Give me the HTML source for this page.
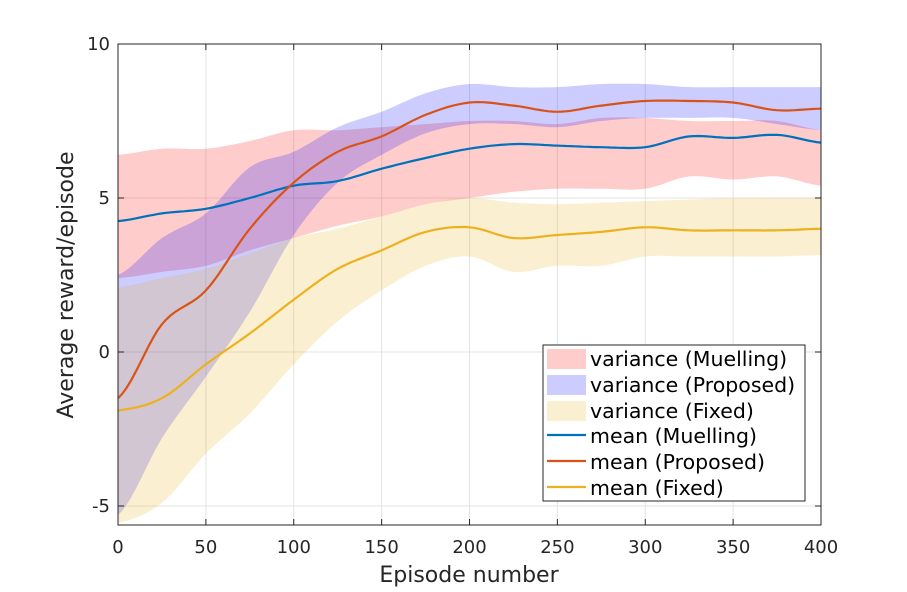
<!DOCTYPE html>
<html><head><meta charset="utf-8"><style>
body{margin:0;background:#fff}
svg{display:block;font-family:"DejaVu Sans","Liberation Sans",sans-serif}
</style></head><body>
<svg id="chart" width="907" height="592" viewBox="0 0 907 592"></svg>
<script>
const episodes=[0,25,50,75,100,125,150,175,200,225,250,275,300,325,350,375,400];
const muellingMean=[4.25,4.5,4.65,5.0,5.4,5.55,5.95,6.3,6.6,6.75,6.7,6.65,6.65,7.0,6.95,7.05,6.8];
const muellingUpper=[6.4,6.6,6.6,6.85,7.2,7.2,7.3,7.4,7.5,7.5,7.4,7.6,7.6,7.5,7.5,7.5,7.2];
const muellingLower=[2.4,2.6,2.8,3.3,3.7,4.1,4.4,4.8,5.0,5.2,5.3,5.3,5.3,5.7,5.6,5.7,5.4];
const proposedMean=[-1.5,0.9,2.0,4.0,5.5,6.5,7.0,7.7,8.1,8.0,7.8,8.0,8.15,8.15,8.1,7.85,7.9];
const proposedUpper=[2.5,3.7,4.5,6.0,6.5,7.3,7.8,8.4,8.7,8.6,8.6,8.7,8.7,8.6,8.6,8.6,8.6];
const proposedLower=[-5.3,-2.8,-0.8,1.3,3.8,5.5,6.4,7.1,7.4,7.4,7.3,7.5,7.6,7.6,7.6,7.4,7.2];
const fixedMean=[-1.9,-1.5,-0.4,0.6,1.7,2.7,3.3,3.9,4.05,3.7,3.8,3.9,4.05,3.95,3.95,3.95,4.0];
const fixedUpper=[2.1,2.4,2.7,3.2,3.7,4.0,4.4,4.8,5.0,4.85,4.8,4.85,4.9,4.95,5.0,5.0,5.0];
const fixedLower=[-5.55,-4.9,-3.3,-2.0,-0.4,1.0,2.0,2.8,3.1,2.6,2.8,2.8,3.1,3.1,3.1,3.1,3.15];
const xTicks=[0,50,100,150,200,250,300,350,400];
const yTicks=[-5,0,5,10];

const L=118,R=821,T=44,B=525,XMAX=400,YMIN=-5.617,YMAX=10;
const sx=v=>L+(v/XMAX)*(R-L);
const sy=v=>B-(v-YMIN)/(YMAX-YMIN)*(B-T);
const svg=document.getElementById('chart');
const NS='http://www.w3.org/2000/svg';
function mk(tag,attrs,parent){const e=document.createElementNS(NS,tag);for(const k in attrs)e.setAttribute(k,attrs[k]);(parent||svg).appendChild(e);return e;}
function smoothPts(xs,ys){const pts=[];for(let i=0;i<xs.length-1;i++){const p0=ys[Math.max(i-1,0)],p1=ys[i],p2=ys[i+1],p3=ys[Math.min(i+2,ys.length-1)];for(let t=0;t<1;t+=0.1){const t2=t*t,t3=t2*t;const y=0.5*(2*p1+(-p0+p2)*t+(2*p0-5*p1+4*p2-p3)*t2+(-p0+3*p1-3*p2+p3)*t3);pts.push([sx(xs[i]+t*(xs[i+1]-xs[i])),sy(y)]);}}pts.push([sx(xs[xs.length-1]),sy(ys[ys.length-1])]);return pts;}
const toStr=p=>p.map(q=>q[0].toFixed(1)+','+q[1].toFixed(1)).join(' ');

const grid=mk('g',{});


xTicks.forEach(v=>mk('line',{x1:sx(v),x2:sx(v),y1:T,y2:B,stroke:'#e3e3e3','stroke-width':1},grid));
yTicks.forEach(v=>mk('line',{x1:L,x2:R,y1:sy(v),y2:sy(v),stroke:'#e3e3e3','stroke-width':1},grid));

function band(up,lo,fill,name){const a=smoothPts(episodes,up),b=smoothPts(episodes,lo).reverse();const p=mk('polygon',{points:toStr(a.concat(b)),fill:fill,stroke:'none'});}
band(muellingUpper,muellingLower,'rgba(255,0,0,0.2)','variance-muelling');
band(proposedUpper,proposedLower,'rgba(0,0,255,0.2)','variance-proposed');
band(fixedUpper,fixedLower,'rgba(237,177,32,0.2)','variance-fixed');
function line(ys,col,name){const p=mk('polyline',{points:toStr(smoothPts(episodes,ys)),fill:'none',stroke:col,'stroke-width':2.2});}
line(muellingMean,'#0072BD','mean-muelling');
line(proposedMean,'#D95319','mean-proposed');
line(fixedMean,'#EDB120','mean-fixed');

mk('rect',{x:L,y:T,width:R-L,height:B-T,fill:'none',stroke:'#262626','stroke-width':1});
const ax=mk('g',{fill:'#262626','font-size':18});


xTicks.forEach(v=>{mk('line',{x1:sx(v),x2:sx(v),y1:B,y2:B-6,stroke:'#262626'},ax);mk('line',{x1:sx(v),x2:sx(v),y1:T,y2:T+6,stroke:'#262626'},ax);const t=mk('text',{x:sx(v),y:B+28,'text-anchor':'middle'},ax);t.textContent=v;});
yTicks.forEach(v=>{mk('line',{x1:L,x2:L+6,y1:sy(v),y2:sy(v),stroke:'#262626'},ax);mk('line',{x1:R,x2:R-6,y1:sy(v),y2:sy(v),stroke:'#262626'},ax);const t=mk('text',{x:L-8,y:sy(v)+6,'text-anchor':'end'},ax);t.textContent=v;});
</script>
<svg style="position:absolute;left:0;top:0" width="907" height="592" font-family="DejaVu Sans, Liberation Sans, sans-serif">
<text x="469" y="582" text-anchor="middle" font-size="22" fill="#262626">Episode number</text>
<text transform="translate(73,285) rotate(-90)" text-anchor="middle" font-size="22" fill="#262626">Average reward/episode</text>
<g font-size="20.5" fill="#000">
<rect x="543" y="345" width="262" height="156" fill="#fff" stroke="#262626" stroke-width="1"/>
<rect x="547" y="349" width="39" height="20" fill="#ffcccc"/>
<rect x="547" y="375" width="39" height="20" fill="#ccccff"/>
<rect x="547" y="401" width="39" height="20" fill="#fbefd2"/>
<line x1="547" x2="586" y1="435" y2="435" stroke="#0072BD" stroke-width="2.2"/>
<line x1="547" x2="586" y1="461" y2="461" stroke="#D95319" stroke-width="2.2"/>
<line x1="547" x2="586" y1="487" y2="487" stroke="#EDB120" stroke-width="2.2"/>
<text x="590" y="366">variance (Muelling)</text>
<text x="590" y="392">variance (Proposed)</text>
<text x="590" y="418">variance (Fixed)</text>
<text x="590" y="443">mean (Muelling)</text>
<text x="590" y="469">mean (Proposed)</text>
<text x="590" y="495">mean (Fixed)</text>
</g>
</svg>
</body></html>
